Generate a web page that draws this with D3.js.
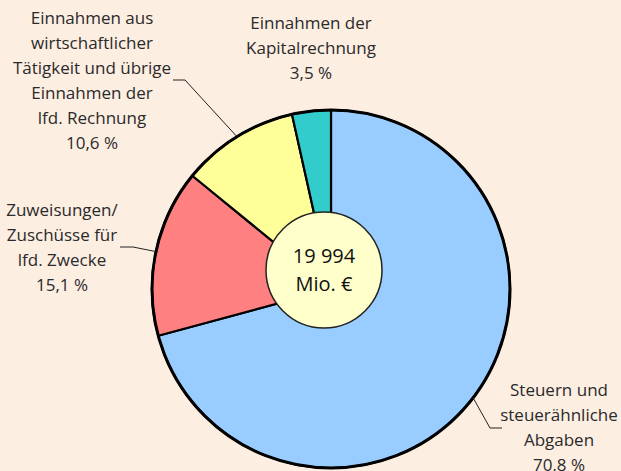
<!DOCTYPE html>
<html>
<head>
<meta charset="utf-8">
<script src="https://cdn.jsdelivr.net/npm/d3@7"></script>
<style>
  body { margin: 0; background: #fdeee2; }
  svg { display: block; }
</style>
</head>
<body>
<script>
// values (share in %)
const categories = ["Steuern", "Zuweisungen", "Wirtschaft", "Kapital"]
const shares = [70.8, 15.1, 10.6, 3.5]
const colors = ["#99ccff", "#ff8080", "#ffff99", "#33cccc"]
const labelLines = [
    ["Steuern und", "steuerähnliche", "Abgaben", "70,8 %"],
    ["Zuweisungen/", "Zuschüsse für", "lfd. Zwecke", "15,1 %"],
    ["Einnahmen aus", "wirtschaftlicher", "Tätigkeit und übrige", "Einnahmen der", "lfd. Rechnung", "10,6 %"],
    ["Einnahmen der", "Kapitalrechnung", "3,5 %"]
]
const totalLines = ["19 994", "Mio. €"]

const width = 621
const height = 471
const cx = 331, cy = 289, radius = 179
const lineHeight = 25

// label placement: text centre x, first baseline y, leader elbow + end (null = no leader)
const labelPos = [
    { x: 559, y: 396, elbow: [490, 428], end: [502, 428] },
    { x: 62, y: 216, elbow: [133, 247], end: [120, 247] },
    { x: 92, y: 24, elbow: [185, 80], end: [173, 80] },
    { x: 311, y: 29, elbow: null }
]

const svg = d3.select("body").append("svg")
    .attr("width", width)
    .attr("height", height)
    .style("font-family", "'Open Sans', sans-serif")

const data = categories.map((c, i) => ({ name: c, value: shares[i], color: colors[i] }))

const pie = d3.pie().value(d => d.value).sort(null)
const arcs = pie(data)
const arc = d3.arc().innerRadius(0).outerRadius(radius)

const g = svg.append("g").attr("transform", `translate(${cx},${cy})`)

g.selectAll("path")
    .data(arcs)
    .join("path")
    .attr("d", arc)
    .attr("fill", d => d.data.color)
    .attr("stroke", "#000")
    .attr("stroke-width", 2.2)
    .attr("stroke-linejoin", "round")

// outer ring a bit heavier
g.append("circle")
    .attr("r", radius)
    .attr("fill", "none")
    .attr("stroke", "#000")
    .attr("stroke-width", 3)

// leader lines from slice middle on the rim
arcs.forEach((a, i) => {
    const p = labelPos[i]
    if (!p.elbow) return
    const mid = (a.startAngle + a.endAngle) / 2
    const sx = cx + Math.sin(mid) * radius
    const sy = cy - Math.cos(mid) * radius
    svg.append("polyline")
        .attr("points", [[sx, sy], p.elbow, p.end].map(q => q.join(",")).join(" "))
        .attr("fill", "none")
        .attr("stroke", "#222")
        .attr("stroke-width", 1)
})

// labels
labelLines.forEach((lines, i) => {
    const p = labelPos[i]
    const t = svg.append("text")
        .attr("text-anchor", "middle")
        .attr("font-size", 17)
        .attr("fill", "#2a2a2a")
    lines.forEach((l, j) => {
        t.append("tspan")
            .attr("x", p.x)
            .attr("y", p.y + j * lineHeight)
            .text(l)
    })
})

// centre disc with total
const disc = svg.append("g").attr("transform", "translate(324,270)")
disc.append("circle")
    .attr("r", 58)
    .attr("fill", "#ffffcc")
    .attr("stroke", "#222")
    .attr("stroke-width", 1.5)

disc.append("text")
    .attr("text-anchor", "middle")
    .attr("font-size", 20)
    .attr("fill", "#111")
    .selectAll("tspan")
    .data(totalLines)
    .join("tspan")
    .attr("x", 0)
    .attr("y", (d, i) => -7 + i * 28)
    .text(d => d)
</script>
</body>
</html>
